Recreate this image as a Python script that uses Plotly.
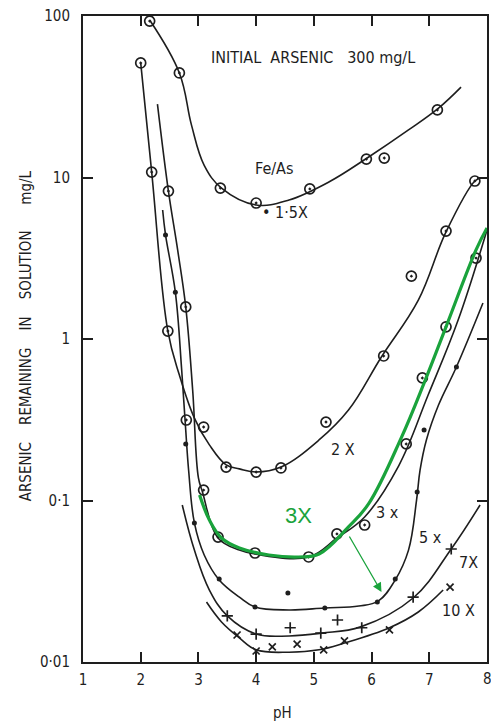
import plotly.graph_objects as go

INK = "#1e1e1e"
GREEN = "#1aa33c"
FONT = "DejaVu Sans Condensed, Liberation Sans Narrow, DejaVu Sans, sans-serif"

# ---------------- data (pH, arsenic remaining mg/L) ----------------
# Fe/As = 1.5X
r15_line_ph = [2.155, 2.67, 2.88, 3.10, 3.40, 4.00, 4.57, 5.26, 5.95, 6.64, 7.16, 7.55]
r15_line_as = [94.5, 44.4, 21.1, 11.9, 8.6, 6.76, 7.26, 9.38, 13.4, 19.7, 26.9, 36.3]
r15_pts_ph = [2.155, 2.67, 3.38, 4.00, 4.93, 5.91, 6.22, 7.14]
r15_pts_as = [93, 44.4, 8.6, 6.95, 8.5, 13.0, 13.2, 26.2]

# Fe/As = 2X
r2_line_ph = [2.00, 2.19, 2.47, 2.67, 2.93, 3.19, 3.48, 3.71, 4.00, 4.43, 5.09, 5.60, 6.17, 6.81, 7.29, 7.79, 7.90]
r2_line_as = [51.2, 10.8, 1.12, 0.598, 0.324, 0.221, 0.166, 0.157, 0.150, 0.161, 0.237, 0.363, 0.774, 1.74, 4.60, 9.51, 9.93]
r2_pts_ph = [2.00, 2.19, 2.47, 2.79, 3.09, 3.48, 4.00, 4.43, 5.21, 6.21, 6.69, 7.29, 7.79]
r2_pts_as = [51.2, 10.8, 1.12, 0.315, 0.285, 0.161, 0.150, 0.159, 0.306, 0.785, 2.45, 4.66, 9.51]

# Fe/As = 3X (original black curve)
r3_line_ph = [2.29, 2.48, 2.64, 2.78, 2.90, 3.00, 3.07, 3.34, 3.71, 3.98, 4.91, 5.40, 5.88, 6.47, 6.98, 7.50, 8.00]
r3_line_as = [28.5, 8.24, 3.56, 1.58, 0.483, 0.138, 0.113, 0.0586, 0.0493, 0.0466, 0.0447, 0.0586, 0.0791, 0.164, 0.450, 1.31, 4.73]
r3_pts_ph = [2.48, 2.78, 3.09, 3.34, 3.98, 4.91, 5.40, 5.88, 6.60, 6.88, 7.29, 7.81]
r3_pts_as = [8.24, 1.58, 0.116, 0.0594, 0.0473, 0.0447, 0.0621, 0.0705, 0.224, 0.574, 1.19, 3.17]

# Fe/As = 3X (green highlight)
g3_line_ph = [3.02, 3.19, 3.40, 3.71, 4.22, 4.74, 5.09, 5.60, 5.95, 6.52, 6.93, 7.29, 7.81, 8.00]
g3_line_as = [0.108, 0.0757, 0.0586, 0.0508, 0.0460, 0.0447, 0.0466, 0.0686, 0.0956, 0.247, 0.557, 1.19, 3.56, 4.87]

# Fe/As = 5X
r5_line_ph = [2.38, 2.43, 2.60, 2.71, 2.78, 2.83, 2.93, 3.10, 3.36, 3.71, 3.98, 4.57, 5.19, 5.78, 6.12, 6.41, 6.64, 6.78, 6.84, 6.95, 7.16, 7.47, 7.93]
r5_line_as = [6.29, 4.41, 1.95, 0.643, 0.273, 0.154, 0.0726, 0.0460, 0.0322, 0.0252, 0.0219, 0.0210, 0.0216, 0.0222, 0.0239, 0.0322, 0.0493, 0.101, 0.154, 0.237, 0.390, 0.671, 1.67]
r5_pts_ph = [2.43, 2.60, 2.78, 2.93, 3.36, 3.98, 4.55, 5.19, 6.10, 6.41, 6.79, 6.91, 7.47]
r5_pts_as = [4.41, 1.95, 0.224, 0.0726, 0.0327, 0.0219, 0.0267, 0.0216, 0.0235, 0.0327, 0.113, 0.273, 0.671]

# Fe/As = 7X
r7_line_ph = [2.72, 2.93, 3.19, 3.50, 4.00, 4.57, 5.14, 5.81, 6.72, 7.38, 7.88]
r7_line_as = [0.0938, 0.0493, 0.0279, 0.0193, 0.0149, 0.0145, 0.0151, 0.0165, 0.0249, 0.0501, 0.0938]
r7_pts_ph = [3.50, 4.00, 4.59, 5.12, 5.41, 5.83, 6.72, 7.38]
r7_pts_as = [0.0193, 0.0149, 0.0163, 0.0151, 0.0182, 0.0163, 0.0252, 0.0501]

# Fe/As = 10X
r10_line_ph = [3.14, 3.40, 3.71, 4.00, 4.57, 5.09, 5.53, 6.31, 6.81, 7.24]
r10_line_as = [0.0235, 0.0177, 0.0141, 0.0119, 0.0115, 0.0119, 0.0131, 0.0163, 0.0204, 0.0279]
r10_pts_ph = [3.67, 4.00, 4.28, 4.71, 5.17, 5.53, 6.31, 7.36]
r10_pts_as = [0.0147, 0.0117, 0.0124, 0.0129, 0.0119, 0.0135, 0.0158, 0.0291]

x_ticks = [1, 2, 3, 4, 5, 6, 7, 8]
x_ticktext = ["1", "2", "3", "4", "5", "6", "7", ""]   # "8" drawn separately at the page edge
y_ticks = [0.01, 0.1, 1, 10, 100]
y_ticktext = ["0·01", "0·1", "1", "10", "100"]

# ---------------- figure ----------------
fig = go.Figure()


def add_line(x, y, color=INK, width=1.6):
    fig.add_trace(go.Scatter(x=x, y=y, mode="lines", hoverinfo="skip",
                             line=dict(color=color, width=width, shape="spline", smoothing=1.1)))


def add_pts(x, y, symbol, size, lw=1.4):
    fig.add_trace(go.Scatter(x=x, y=y, mode="markers", hoverinfo="skip",
                             marker=dict(symbol=symbol, size=size, color=INK,
                                         line=dict(color=INK, width=lw))))


for lx, ly in [(r15_line_ph, r15_line_as), (r2_line_ph, r2_line_as), (r3_line_ph, r3_line_as),
               (r5_line_ph, r5_line_as), (r7_line_ph, r7_line_as), (r10_line_ph, r10_line_as)]:
    add_line(lx, ly)

add_pts(r15_pts_ph, r15_pts_as, "circle-open-dot", 10, 1.7)
add_pts(r2_pts_ph, r2_pts_as, "circle-open-dot", 10, 1.7)
add_pts(r3_pts_ph, r3_pts_as, "circle-open-dot", 10, 1.7)
add_pts(r5_pts_ph, r5_pts_as, "circle", 5, 0)
add_pts(r7_pts_ph, r7_pts_as, "cross-thin-open", 8, 1.7)
add_pts(r10_pts_ph, r10_pts_as, "x-thin-open", 7, 1.7)

add_line(g3_line_ph, g3_line_as, GREEN, 3.2)


def px(x):
    return (x - 83) / 406


def py(y):
    return (662 - y) / 646


def label(x, y, text, size=16, color=INK, angle=0, family=FONT):
    fig.add_annotation(x=px(x), y=py(y), xref="paper", yref="paper", text=text, showarrow=False,
                       textangle=angle, xanchor="center", yanchor="middle",
                       font=dict(family=family, size=size, color=color))


label(314, 58, "INITIAL  ARSENIC   300 mg/L", 16)
label(275, 168, "Fe/As", 16)
label(286, 213, "• 1·5X", 16)
label(344, 449, "2 X", 16)
label(389, 512, "3 x", 16)
label(432, 537, "5 x", 16)
label(470, 562, "7X", 16)
label(460, 610, "10 X", 16)
label(300, 515, "3X", 22, GREEN, family="Liberation Sans, Arial, sans-serif")
label(283, 713, "pH", 15)
label(490, 679, "8", 15)
label(26, 336, "ARSENIC    REMAINING    IN    SOLUTION      mg/L", 15, angle=-90)

# green arrow
fig.add_annotation(x=px(383), y=py(592), xref="paper", yref="paper", ax=-33, ay=-57,
                   axref="pixel", ayref="pixel", text="", showarrow=True,
                   arrowhead=2, arrowsize=1.4, arrowwidth=1.3, arrowcolor=GREEN)

fig.update_layout(width=491, height=725, margin=dict(l=83, r=2, t=16, b=63),
                  paper_bgcolor="white", plot_bgcolor="white", showlegend=False,
                  font=dict(family=FONT, color=INK))
fig.update_xaxes(range=[1, 8], tickvals=x_ticks, ticktext=x_ticktext, ticks="inside", ticklen=10,
                 tickwidth=1.5, tickcolor=INK, showline=True, linewidth=2, linecolor=INK,
                 mirror="ticks", showgrid=False, zeroline=False, ticklabelstandoff=3,
                 tickfont=dict(family=FONT, size=15, color=INK))
fig.update_yaxes(type="log", range=[-2, 2], tickvals=y_ticks, ticktext=y_ticktext,
                 ticks="inside", ticklen=10, tickwidth=1.5, tickcolor=INK,
                 showline=True, linewidth=2, linecolor=INK, mirror="ticks",
                 showgrid=False, zeroline=False, ticklabelstandoff=8,
                 tickfont=dict(family=FONT, size=15, color=INK))

fig.write_html("out.html")
